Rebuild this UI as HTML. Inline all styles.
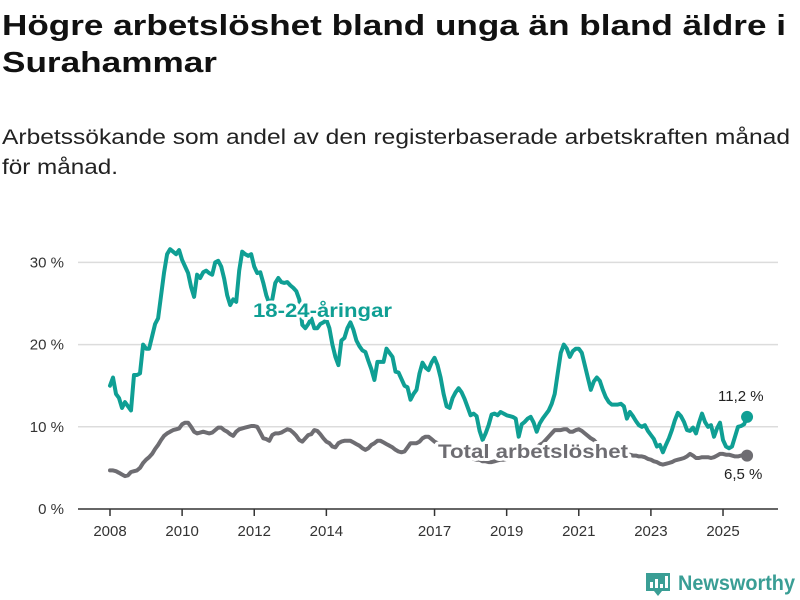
<!DOCTYPE html>
<html><head><meta charset="utf-8"><style>
html,body{margin:0;padding:0;background:#fff;}
svg{display:block;font-family:"Liberation Sans",sans-serif;}
</style></head><body>
<svg id="chart" width="800" height="600" viewBox="0 0 800 600">
<text x="2" y="35" font-size="29" font-weight="bold" fill="#111" textLength="784" lengthAdjust="spacingAndGlyphs">Högre arbetslöshet bland unga än bland äldre i</text>
<text x="2" y="72" font-size="29" font-weight="bold" fill="#111" textLength="215" lengthAdjust="spacingAndGlyphs">Surahammar</text>
<text x="2" y="144" font-size="21" fill="#222" textLength="788" lengthAdjust="spacingAndGlyphs">Arbetssökande som andel av den registerbaserade arbetskraften månad</text>
<text x="2" y="174" font-size="21" fill="#222" textLength="116" lengthAdjust="spacingAndGlyphs">för månad.</text>
<g id="grid"></g>
<g id="series"></g>
<g id="labels"></g>
<g>
<path d="M646 573 h24 v18 h-8 l-4 5 l-4 -5 h-8 z" fill="#3a9e95"/>
<rect x="650" y="582" width="3" height="6" fill="#fff"/><rect x="655" y="579" width="3" height="9" fill="#fff"/><rect x="660" y="584" width="3" height="4" fill="#fff"/><rect x="665" y="576" width="3" height="12" fill="#fff"/>
<text x="678" y="590" font-size="21" font-weight="bold" fill="#3a9e95" textLength="117" lengthAdjust="spacingAndGlyphs">Newsworthy</text>
</g>
</svg>
<script>
const yTicks = [0, 10, 20, 30];
const yTickLabels = ["0 %", "10 %", "20 %", "30 %"];
const xTickYears = [2008, 2010, 2012, 2014, 2017, 2019, 2021, 2023, 2025];
const startYear = 2008;
const youth = [
15,16,14,13.5,12.3,13,12.5,12,16.3,16.3,16.5,20,
19.5,19.5,21,22.5,23.2,26,28.8,31,31.6,31.3,31,31.5,
30.3,29.5,28.7,27,25.8,28.5,28.1,28.8,29,28.7,28.5,30,
30.2,29.5,28,26,24.8,25.5,25.2,29,31.3,31,30.8,31,
29.5,28.7,28.8,27.5,26,25,25.5,27.5,28.1,27.6,27.5,27.6,
27.2,26.9,26.5,25.5,22.4,22,22.5,23.2,22,22,22.5,22.7,
23,22,20,18.5,17.5,20.5,20.8,22,22.7,21.8,20.5,19.8,
19.3,19.1,18,17,15.7,17.9,17.9,17.9,19.5,19,18.5,16.7,
16.6,15.8,15,14.8,13.3,14,14.5,16.5,17.8,17.2,16.9,17.8,
18.4,17.5,16,14,12.5,12.3,13.5,14.2,14.7,14.2,13.4,12.4,
11.4,11.6,11.3,9.5,8.4,9.2,10.2,11.5,11.6,11.4,11.8,11.6,
11.4,11.3,11.2,11,8.8,10.3,10.6,11,11.2,10.5,9.4,10.4,
11,11.5,12,12.8,14,16.5,19,20,19.5,18.5,19.2,19.5,
19.5,19,17.5,16,14.5,15.5,16,15.6,14.5,13.6,13,12.7,
12.7,12.7,12.8,12.5,11,11.8,11.3,10.7,10.2,10,10.2,9.5,
9,8.5,7.6,7.8,6.9,7.8,8.6,9.6,10.8,11.7,11.3,10.6,
9.6,9.5,9.9,9.2,10.5,11.6,10.6,10,10.2,8.8,9.8,10.5,
8.4,7.6,7.4,7.6,8.8,10,10.1,10.3,11.2];
const total = [
4.7,4.7,4.6,4.4,4.2,4.0,4.1,4.5,4.6,4.7,5.0,5.6,
6.0,6.3,6.7,7.3,7.8,8.4,8.9,9.2,9.4,9.6,9.7,9.8,
10.3,10.5,10.5,10.0,9.4,9.2,9.3,9.4,9.3,9.2,9.3,9.6,
9.9,9.9,9.6,9.4,9.1,8.9,9.4,9.7,9.8,9.9,10.0,10.1,
10.1,10.0,9.3,8.6,8.5,8.3,9.0,9.2,9.2,9.3,9.5,9.7,
9.6,9.3,8.9,8.4,8.2,8.6,9.0,9.1,9.6,9.5,9.1,8.6,
8.2,8.0,7.6,7.5,8.0,8.2,8.3,8.3,8.3,8.1,7.9,7.7,
7.4,7.2,7.4,7.8,8.0,8.3,8.3,8.1,7.9,7.7,7.5,7.2,
7.0,6.9,7.0,7.5,8.0,8.0,8.0,8.2,8.6,8.8,8.8,8.5,
8.2,8.0,7.8,7.6,7.5,7.3,7.0,6.8,6.6,6.4,6.3,6.3,
6.2,6.1,6.0,6.0,5.8,5.8,5.7,5.7,5.8,5.9,6.0,6.0,
6.1,6.2,6.3,6.4,6.5,6.5,6.6,6.8,7.0,7.2,7.5,7.8,
8.0,8.4,8.8,9.2,9.6,9.6,9.6,9.7,9.7,9.4,9.4,9.6,
9.7,9.5,9.2,8.9,8.6,8.4,8.0,7.6,7.3,7.0,6.9,6.8,
6.8,6.7,6.7,6.6,6.6,6.6,6.5,6.5,6.4,6.4,6.3,6.1,
6.0,5.8,5.7,5.5,5.4,5.5,5.6,5.7,5.9,6.0,6.1,6.2,
6.4,6.7,6.5,6.2,6.2,6.3,6.3,6.3,6.2,6.3,6.5,6.7,
6.7,6.6,6.6,6.5,6.4,6.4,6.5,6.6,6.5];
const youthEndLabel = "11,2 %";
const totalEndLabel = "6,5 %";

const NS = "http://www.w3.org/2000/svg";
const X0 = 110, PX_PER_YEAR = 36.06, Y0 = 509, PX_PER_PCT = 8.22;
const xYear = y => X0 + (y - startYear) * PX_PER_YEAR;
const xMonth = i => xYear(startYear + i / 12);
const yScale = v => Y0 - v * PX_PER_PCT;
function mk(tag, attrs, parent){ const e=document.createElementNS(NS,tag); for(const k in attrs) e.setAttribute(k,attrs[k]); parent.appendChild(e); return e; }
const grid = document.getElementById('grid'), series = document.getElementById('series'), labels = document.getElementById('labels');

yTicks.forEach((t,i)=>{
  if(t>0){ const l=mk('line',{x1:78,x2:778,y1:yScale(t),y2:yScale(t),stroke:'#dcdcdc','stroke-width':1.5},grid);
  
   }
  const tx=mk('text',{x:64,y:yScale(t)+5,'font-size':15,fill:'#333','text-anchor':'end'},grid);
  tx.textContent=yTickLabels[i];
  
  
});
const ax=mk('line',{x1:78,x2:778,y1:Y0,y2:Y0,stroke:'#333','stroke-width':1.5},grid);


xTickYears.forEach(yr=>{
  const x=xYear(yr);
  const tk=mk('line',{x1:x,x2:x,y1:Y0,y2:Y0+7,stroke:'#333','stroke-width':1.5},grid);
  
  
  const tx=mk('text',{x:x,y:Y0+27,'font-size':15,fill:'#333','text-anchor':'middle'},grid);
  tx.textContent=yr;
  
  
});
function line(data,color,name){
  const d=data.map((v,i)=>(i?'L':'M')+xMonth(i).toFixed(1)+' '+yScale(v).toFixed(1)).join(' ');
  const p=mk('path',{d:d,fill:'none',stroke:color,'stroke-width':4,'stroke-linejoin':'round','stroke-linecap':'round'},series);
  
  
  const n=data.length-1;
  const c=mk('circle',{cx:xMonth(n),cy:yScale(data[n]),r:6,fill:color},series);
  
  
}
const TEAL='#0f9f94', GREY='#6e6d72';
line(total,GREY,'total-line');
line(youth,TEAL,'youth-line');
function lbl(txt,x,y,size,color,bold,halo,name,len){
  const a={x:x,y:y,'font-size':size,fill:color,'font-weight':bold?'bold':'normal'};
  if(halo){a.stroke='#fff';a['stroke-width']=6;a['paint-order']='stroke';a['stroke-linejoin']='round';}
  if(len){a.textLength=len;a.lengthAdjust='spacingAndGlyphs';}
  const t=mk('text',a,labels); t.textContent=txt;
  
  
}
lbl('18-24-åringar',253,317,19,TEAL,true,true,'youth-series-label',139);
lbl('Total arbetslöshet',438,458,19,GREY,true,true,'total-series-label',190);
lbl(youthEndLabel,718,401,15,'#222',false,true,'youth-end-value');
lbl(totalEndLabel,724,479,15,'#222',false,true,'total-end-value');
</script>
</body></html>
